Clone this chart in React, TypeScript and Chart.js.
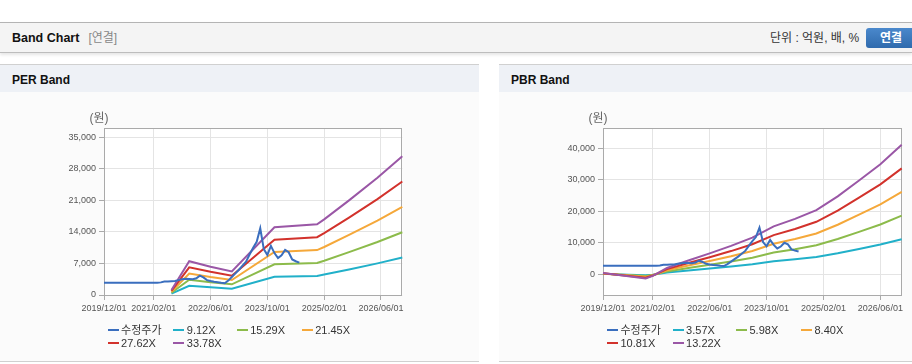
import React, { useEffect, useRef } from 'react';
import { Chart, registerables } from 'chart.js';

Chart.register(...registerables);

const FONT = "'Liberation Sans', Arial, 'Noto Sans CJK KR', sans-serif";

// Monthly categories 2019/12/01 .. 2026/12/01
const months: string[] = [];
for (let i = 0; i <= 84; i++) {
  const t = 11 + i;
  const yy = 2019 + Math.floor(t / 12);
  const mm = (t % 12) + 1;
  months.push(`${yy}/${mm < 10 ? '0' + mm : mm}/01`);
}

const xTickLabels = ['2019/12/01', '2021/02/01', '2022/06/01', '2023/10/01', '2025/02/01', '2026/06/01'];
const perYTicks = [0, 7000, 14000, 21000, 28000, 35000];
const pbrYTicks = [0, 10000, 20000, 30000, 40000];

// 수정주가 (monthly from 2019/12/01)
const priceValues = [
  2700, 2700, 2700, 2700, 2700, 2700, 2700, 2700, 2700, 2700, 2700, 2700, 2700, 2700, 2700, 2700,
  2800, 3000, 3000, 3050, 3100, 3300, 3500, 3600, 3550, 3500, 3700, 4300, 3900, 3300,
  3100, 2950, 2850, 2700, 2600, 3200, 4000, 4800, 5600, 6500, 7400, 9000, 10500, 11800,
  14800, 10200, 8900, 10900, 9300, 8200, 8800, 10000, 9500, 7900, 7500, 7200,
];

// PER band
const perLabels = ['9.12X', '15.29X', '21.45X', '27.62X', '33.78X'];
const perBandDates = ['2021/07/01', '2021/12/01', '2022/06/01', '2022/12/01', '2023/12/01', '2024/12/01', '2025/02/01', '2025/09/01', '2026/05/01', '2026/12/01'];
const per912 = [300, 2030, 1700, 1410, 4060, 4240, 4530, 5670, 7020, 8320];
const per1529 = [500, 3390, 2840, 2370, 6800, 7110, 7600, 9510, 11770, 13940];
const per2145 = [710, 4760, 3990, 3330, 9550, 9970, 10660, 13340, 16520, 19560];
const per2762 = [910, 6130, 5140, 4280, 12290, 12840, 13730, 17180, 21270, 25190];
const per3378 = [1120, 7500, 6280, 5240, 15030, 15710, 16790, 21010, 26010, 30810];

// PBR band
const pbrLabels = ['3.57X', '5.98X', '8.40X', '10.81X', '13.22X'];
const pbrBandDates = ['2019/12/01', '2020/12/01', '2021/02/01', '2021/06/01', '2021/12/01', '2022/06/01', '2022/12/01', '2023/06/01', '2023/12/01', '2024/06/01', '2024/12/01', '2025/06/01', '2025/12/01', '2026/06/01', '2026/12/01'];
const pbr357 = [110, -360, -140, 540, 1180, 1790, 2430, 3140, 4110, 4750, 5500, 6680, 8030, 9420, 11100];
const pbr598 = [180, -600, -240, 900, 1970, 2990, 4070, 5260, 6880, 7950, 9210, 11180, 13460, 15790, 18600];
const pbr840 = [250, -840, -340, 1260, 2770, 4200, 5710, 7390, 9660, 11170, 12940, 15710, 18900, 22180, 26120];
const pbr1081 = [320, -1080, -430, 1620, 3570, 5410, 7350, 9510, 12430, 14380, 16650, 20220, 24320, 28540, 33620];
const pbr1322 = [400, -1320, -530, 1980, 4360, 6610, 8990, 11630, 15200, 17580, 20360, 24720, 29750, 34900, 41110];

const priceLabel = '수정주가';
const COLORS = ['#3a6ebe', '#21b0c9', '#8cbb4b', '#f5a83a', '#d2322c', '#9a57a6'];

const perRange = { min: 0, max: 37000 };
const pbrRange = { min: -6600, max: 46350 };

const framePlugin = {
  id: 'frame',
  beforeDraw(chart: any) {
    const { ctx, chartArea: a } = chart;
    ctx.save();
    ctx.fillStyle = '#ffffff';
    ctx.fillRect(a.left, a.top, a.right - a.left, a.bottom - a.top);
    ctx.restore();
  },
  beforeDatasetsDraw(chart: any) {
    const { ctx, chartArea: a } = chart;
    ctx.save();
    ctx.strokeStyle = '#aaaaaa';
    ctx.lineWidth = 1;
    ctx.strokeRect(Math.round(a.left) + 0.5, Math.round(a.top) + 0.5, Math.round(a.right - a.left) - 1, Math.round(a.bottom - a.top));
    ctx.fillStyle = '#666';
    ctx.font = `12px ${FONT}`;
    ctx.textAlign = 'center';
    ctx.textBaseline = 'middle';
    ctx.fillText('(원)', a.left - 5, a.top - 10);
    ctx.restore();
  },
};

function buildDatasets(dates: string[], bands: number[][], labels: string[]) {
  const ds: any[] = [
    {
      label: priceLabel,
      data: priceValues,
      borderColor: COLORS[0],
      backgroundColor: COLORS[0],
      order: 0,
    },
  ];
  bands.forEach((vals, i) => {
    ds.push({
      label: labels[i],
      data: vals.map((v, j) => ({ x: dates[j], y: v })),
      borderColor: COLORS[i + 1],
      backgroundColor: COLORS[i + 1],
      order: 6 - i,
    });
  });
  return ds;
}

function BandCanvas(props: { left: number; width: number; padRight: number; datasets: any[]; range: { min: number; max: number }; yTicks: number[] }) {
  const ref = useRef<HTMLCanvasElement>(null);
  const { left, width, padRight, datasets, range, yTicks } = props;
  const height = 268;
  useEffect(() => {
    const chart = new Chart(ref.current as HTMLCanvasElement, {
      type: 'line',
      data: { labels: months, datasets },
      plugins: [framePlugin],
      options: {
        animation: false,
        responsive: false,
        maintainAspectRatio: false,
        layout: { padding: { left: 0, right: padRight, top: 35.3, bottom: 0 } },
        plugins: { legend: { display: false }, tooltip: { enabled: false } },
        elements: { point: { radius: 0 }, line: { borderWidth: 2, tension: 0 } },
        scales: {
          x: {
            type: 'category',
            offset: false,
            border: { display: false },
            grid: { color: '#e4e4e4', tickColor: '#aaaaaa', tickLength: 5, drawTicks: true },
            ticks: {
              autoSkip: false,
              maxRotation: 0,
              minRotation: 0,
              padding: 3,
              color: '#555',
              font: { family: FONT, size: 9 },
              callback: (_v: any, i: number) => (xTickLabels.includes(months[i]) ? months[i] : null),
            },
            afterFit: (s: any) => {
              s.height = 66;
            },
          } as any,
          y: {
            type: 'linear',
            min: range.min,
            max: range.max,
            border: { display: false },
            grid: { color: '#e4e4e4', tickColor: '#aaaaaa', tickLength: 5 },
            ticks: {
              autoSkip: false,
              padding: 3,
              color: '#555',
              font: { family: FONT, size: 9 },
              callback: (v: any) => Number(v).toLocaleString('en-US'),
            },
            afterBuildTicks: (s: any) => {
              s.ticks = yTicks.map((v) => ({ value: v }));
            },
            afterFit: (s: any) => {
              s.width = 104;
            },
          } as any,
        },
      },
    });
    return () => chart.destroy();
  }, []);
  return (
    <canvas
      ref={ref}
      width={width}
      height={height}
      style={{ position: 'absolute', left, top: 93, width, height }}
    />
  );
}

function Legend(props: { left: number; labels: string[] }) {
  const cols = [3.6, 69.3, 132.7, 197.7];
  const items = [priceLabel, ...props.labels];
  return (
    <>
      {items.map((label, i) => {
        const row = Math.floor(i / 4);
        const col = i % 4;
        return (
          <div
            key={i}
            style={{
              position: 'absolute',
              left: props.left + cols[col],
              top: 323 + row * 13.3,
              height: 14,
              lineHeight: '14px',
              fontSize: 11,
              color: '#333',
              whiteSpace: 'nowrap',
              display: 'flex',
              alignItems: 'center',
            }}
          >
            <span style={{ display: 'inline-block', width: 11, height: 2, background: COLORS[i], marginRight: 2.5 }} />
            {label}
          </div>
        );
      })}
    </>
  );
}

function Panel(props: { left: number; width: number; title: string }) {
  return (
    <>
      <div
        style={{
          position: 'absolute',
          left: props.left,
          top: 64,
          width: props.width,
          height: 28,
          background: '#eef1f6',
          borderTop: '1px solid #d0d0d0',
          boxSizing: 'border-box',
        }}
      />
      <div
        style={{
          position: 'absolute',
          left: props.left + 12,
          top: 72,
          height: 16,
          lineHeight: '16px',
          fontSize: 12,
          fontWeight: 'bold',
          color: '#111',
        }}
      >
        {props.title}
      </div>
      <div
        style={{
          position: 'absolute',
          left: props.left,
          top: 92,
          width: props.width,
          height: 270,
          background: '#fbfbfb',
          borderBottom: '1px solid #d0d0d0',
          boxSizing: 'border-box',
        }}
      />
    </>
  );
}

export default function App() {
  const perDatasets = buildDatasets(perBandDates, [per912, per1529, per2145, per2762, per3378], perLabels);
  const pbrDatasets = buildDatasets(pbrBandDates, [pbr357, pbr598, pbr840, pbr1081, pbr1322], pbrLabels);
  return (
    <div
      style={{
        position: 'absolute',
        left: 0,
        top: 0,
        width: 912,
        height: 364,
        background: '#fff',
        overflow: 'hidden',
        fontFamily: FONT,
      }}
    >
      <div
        style={{
          position: 'absolute',
          left: 0,
          top: 22,
          width: 912,
          height: 31,
          background: '#f4f4f4',
          borderTop: '1px solid #b4b4b4',
          borderBottom: '1px solid #bdbdbd',
          boxSizing: 'border-box',
          boxShadow: '0 2px 3px rgba(0,0,0,0.10)',
        }}
      />
      <div style={{ position: 'absolute', left: 12, top: 30, height: 16, lineHeight: '16px', fontSize: 12.5, fontWeight: 'bold', color: '#111', whiteSpace: 'nowrap' }}>
        Band Chart
        <span style={{ fontWeight: 'normal', color: '#888', fontSize: 12, marginLeft: 9 }}>[연결]</span>
      </div>
      <div style={{ position: 'absolute', left: 770, top: 30, height: 16, lineHeight: '16px', fontSize: 12, color: '#333', whiteSpace: 'nowrap' }}>
        단위 : 억원, 배, %
      </div>
      <div
        style={{
          position: 'absolute',
          left: 866,
          top: 28,
          width: 52,
          height: 20,
          borderRadius: 3,
          background: 'linear-gradient(#4a88cc, #2f6aad)',
          color: '#fff',
          fontWeight: 'bold',
          fontSize: 12,
          lineHeight: '20px',
          paddingLeft: 14,
          boxSizing: 'border-box',
          whiteSpace: 'nowrap',
        }}
      >
        연결
      </div>

      <Panel left={0} width={479} title="PER Band" />
      <Panel left={499} width={413} title="PBR Band" />

      <BandCanvas left={0} width={479} padRight={76.7} datasets={perDatasets} range={perRange} yTicks={perYTicks} />
      <BandCanvas left={499} width={413} padRight={10.3} datasets={pbrDatasets} range={pbrRange} yTicks={pbrYTicks} />

      <Legend left={104} labels={perLabels} />
      <Legend left={603.3} labels={pbrLabels} />
    </div>
  );
}
